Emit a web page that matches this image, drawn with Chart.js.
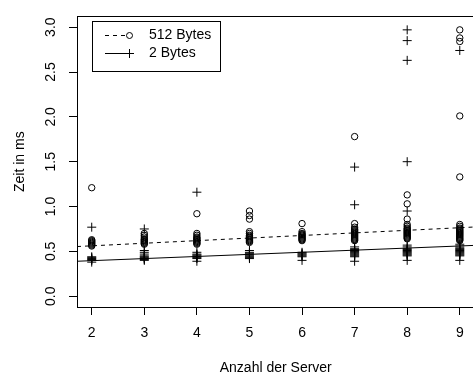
<!DOCTYPE html>
<html>
<head>
<meta charset="utf-8">
<script src="https://cdn.jsdelivr.net/npm/chart.js@4"></script>
<style>
  html, body { margin: 0; padding: 0; background: #fff; overflow: hidden; }
  #wrap { width: 480px; height: 376px; }
</style>
</head>
<body>
<div id="wrap"><canvas id="chart" width="480" height="376"></canvas></div>
<script>
// measurements per server count (ms)
const servers = [2, 3, 4, 5, 6, 7, 8, 9];
const yTicks = [0, 0.5, 1, 1.5, 2, 2.5, 3];

const zeit512 = [
  [0.56, 0.57, 0.58, 0.59, 0.60, 0.61, 0.62, 0.63, 1.21],
  [0.58, 0.59, 0.60, 0.61, 0.62, 0.63, 0.64, 0.66, 0.68, 0.70],
  [0.58, 0.59, 0.60, 0.61, 0.62, 0.63, 0.64, 0.65, 0.66, 0.68, 0.70, 0.92],
  [0.60, 0.61, 0.62, 0.63, 0.64, 0.65, 0.66, 0.67, 0.68, 0.70, 0.72, 0.86, 0.90, 0.95],
  [0.62, 0.63, 0.64, 0.65, 0.66, 0.67, 0.68, 0.69, 0.70, 0.72, 0.81],
  [0.62, 0.63, 0.64, 0.65, 0.66, 0.67, 0.68, 0.69, 0.70, 0.71, 0.72, 0.73, 0.74, 0.75, 0.77, 0.81, 1.78],
  [0.64, 0.65, 0.66, 0.67, 0.68, 0.69, 0.70, 0.71, 0.72, 0.73, 0.74, 0.75, 0.76, 0.78, 0.80, 0.86, 1.03, 1.13],
  [0.62, 0.63, 0.64, 0.65, 0.66, 0.67, 0.68, 0.69, 0.70, 0.71, 0.72, 0.73, 0.74, 0.75, 0.76, 0.78, 0.80, 1.33, 2.01, 2.84, 2.88, 2.97]
];

const zeit2 = [
  [0.38, 0.40, 0.41, 0.42, 0.43, 0.44, 0.77],
  [0.40, 0.41, 0.42, 0.43, 0.44, 0.45, 0.47, 0.49, 0.51, 0.75],
  [0.39, 0.42, 0.43, 0.44, 0.45, 0.46, 0.47, 0.49, 1.16],
  [0.42, 0.43, 0.44, 0.45, 0.46, 0.47, 0.48, 0.49, 0.51],
  [0.40, 0.44, 0.45, 0.46, 0.47, 0.48, 0.49],
  [0.39, 0.44, 0.45, 0.46, 0.47, 0.48, 0.49, 0.50, 0.51, 0.52, 0.53, 0.55, 1.02, 1.44],
  [0.40, 0.45, 0.46, 0.47, 0.48, 0.49, 0.50, 0.51, 0.52, 0.53, 0.55, 0.57, 0.95, 1.50, 2.63, 2.85, 2.97],
  [0.40, 0.45, 0.46, 0.47, 0.48, 0.49, 0.50, 0.51, 0.52, 0.53, 0.54, 0.56, 0.58, 2.74]
];

// regression lines, ends at the plot edges
const fitX = [1.72, 9.28];
const fit512 = [0.554, 0.772];
const fit2 = [0.39, 0.567];

const font = { family: "'Liberation Sans', Arial, sans-serif", size: 14 };

function points(values) {
  const out = [];
  values.forEach((list, i) => list.forEach(v => out.push({ x: servers[i], y: v })));
  return out;
}

function linePoints(ys) {
  return fitX.map((x, i) => ({ x: x, y: ys[i] }));
}

const frame = {
  id: "frame",
  afterDraw(chart) {
    const a = chart.chartArea;
    const c = chart.ctx;
    c.save();
    c.strokeStyle = "#000";
    c.lineWidth = 1;
    c.strokeRect(Math.round(a.left) + 0.5, Math.round(a.top) + 0.5,
      Math.round(a.right - a.left), Math.round(a.bottom - a.top));
    c.restore();
  }
};

const legendBox = {
  id: "legendBox",
  afterDraw(chart) {
    const c = chart.ctx;
    const ds = chart.data.datasets;
    const rows = [
      { label: ds[0].label, style: ds[0].pointStyle, dash: ds[2].borderDash, y: 35 },
      { label: ds[1].label, style: ds[1].pointStyle, dash: ds[3].borderDash, y: 53 }
    ];
    c.save();
    c.strokeStyle = "#000";
    c.fillStyle = "#000";
    c.lineWidth = 1;
    c.strokeRect(92.5, 21.5, 128, 50);
    rows.forEach(r => {
      c.setLineDash(r.dash || []);
      c.beginPath();
      c.moveTo(105, r.y + 0.5);
      c.lineTo(r.style === "circle" ? 126 : 134, r.y + 0.5);
      c.stroke();
      c.setLineDash([]);
      c.beginPath();
      if (r.style === "circle") {
        c.arc(129.5, r.y + 0.5, 3, 0, Math.PI * 2);
      } else {
        c.moveTo(125, r.y + 0.5); c.lineTo(134, r.y + 0.5);
        c.moveTo(129.5, r.y - 4); c.lineTo(129.5, r.y + 5);
      }
      c.stroke();
      c.font = font.size + "px " + font.family;
      c.textBaseline = "middle";
      c.textAlign = "left";
      c.fillText(r.label, 149, r.y);
    });
    c.restore();
  }
};

const ctx = document.getElementById("chart");
const chart = new Chart(ctx, {
  type: "scatter",
  data: {
    datasets: [
      {
        label: "512 Bytes",
        data: points(zeit512),
        pointStyle: "circle",
        pointRadius: 3.2,
        borderColor: "#000",
        backgroundColor: "rgba(0,0,0,0)",
        borderWidth: 1
      },
      {
        label: "2 Bytes",
        data: points(zeit2),
        pointStyle: "cross",
        pointRadius: 4.5,
        borderColor: "#000",
        borderWidth: 1
      },
      {
        type: "line",
        label: "fit 512",
        data: linePoints(fit512),
        borderColor: "#000",
        borderWidth: 1,
        borderDash: [4, 4],
        pointRadius: 0,
        fill: false
      },
      {
        type: "line",
        label: "fit 2",
        data: linePoints(fit2),
        borderColor: "#000",
        borderWidth: 1,
        pointRadius: 0,
        fill: false
      }
    ]
  },
  options: {
    responsive: false,
    animation: false,
    layout: { padding: { top: 9, right: 2, left: 0, bottom: 0 } },
    plugins: { legend: { display: false }, tooltip: { enabled: false } },
    scales: {
      x: {
        type: "linear",
        min: fitX[0],
        max: fitX[1],
        afterBuildTicks: s => { s.ticks = servers.map(v => ({ value: v })); },
        afterFit: s => { s.height = 69; },
        grid: { drawOnChartArea: false, color: "#000", tickLength: 8 },
        border: { color: "#000" },
        ticks: { color: "#000", font: font, padding: 10, callback: v => String(v) },
        title: { display: true, text: "Anzahl der Server", color: "#000", font: font, padding: { top: 0, bottom: -1 } }
      },
      y: {
        type: "linear",
        min: -0.12,
        max: 3.12,
        afterBuildTicks: s => { s.ticks = yTicks.map(v => ({ value: v })); },
        afterFit: s => { s.width = 77; },
        grid: { drawOnChartArea: false, color: "#000", tickLength: 8 },
        border: { color: "#000" },
        ticks: {
          color: "#000",
          font: font,
          padding: 8,
          minRotation: 90,
          maxRotation: 90,
          crossAlign: "center",
          callback: v => v.toFixed(1)
        },
        title: { display: true, text: "Zeit in ms", color: "#000", font: font, padding: { top: 12, bottom: 0 } }
      }
    }
  },
  plugins: [frame, legendBox]
});
</script>
</body>
</html>
